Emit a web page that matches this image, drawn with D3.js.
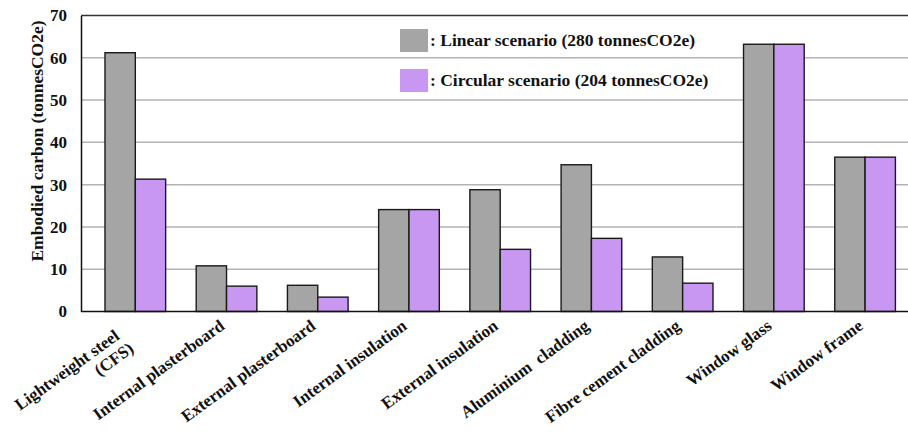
<!DOCTYPE html>
<html lang="en">
    <head>
        <meta charset="utf-8" />
        <title>Embodied carbon</title>
        <script src="https://d3js.org/d3.v7.min.js"></script>
        <style>
            body {
                margin: 0;
                background: #fff;
            }
            text {
                font-family: "Liberation Serif", "Times New Roman", serif;
                font-weight: bold;
                fill: #111;
            }
        </style>
    </head>
    <body>
        <div id="chart"></div>
        <script>
            // data
            const categories = [
                ["Lightweight steel", "(CFS)"],
                ["Internal plasterboard"],
                ["External plasterboard"],
                ["Internal insulation"],
                ["External insulation"],
                ["Aluminium  cladding"],
                ["Fibre cement cladding"],
                ["Window glass"],
                ["Window frame"],
            ];
            const linear = [61.2, 10.8, 6.2, 24.1, 28.8, 34.7, 12.9, 63.2, 36.5];
            const circular = [31.3, 6.0, 3.4, 24.1, 14.7, 17.3, 6.7, 63.2, 36.5];
            const seriesNames = ["linear", "circular"];
            const legendLabels = [
                ": Linear scenario (280 tonnesCO2e)",
                ": Circular scenario (204 tonnesCO2e)",
            ];
            const yTicks = [0, 10, 20, 30, 40, 50, 60, 70];

            width = 908;
            height = 433;
            const mLeft = 81,
                mTop = 15.5,
                mBottom = 311.5;
            const colors = { linear: "#a5a5a5", circular: "#c897f1" };

            var svg = d3
                .select("#chart")
                .append("svg")
                .attr("width", width)
                .attr("height", height);

            const keys = categories.map((c) => c.join(" "));
            const rows = keys.map((k, i) => ({
                key: k,
                lines: categories[i],
                linear: linear[i],
                circular: circular[i],
            }));

            var y = d3.scaleLinear().domain([0, 70]).range([mBottom, mTop]);
            var x = d3
                .scaleBand()
                .domain(keys)
                .range([89.7, 910.7])
                .paddingInner(0.335)
                .paddingOuter(0.1675);
            var xs = d3
                .scaleBand()
                .domain(seriesNames)
                .range([0, x.bandwidth()]);

            // gridlines
            svg.append("g")
                .selectAll("line")
                .data(yTicks.filter((t) => t > 0 && t < 70))
                .enter()
                .append("line")
                .attr("x1", mLeft)
                .attr("x2", width)
                .attr("y1", (d) => y(d))
                .attr("y2", (d) => y(d))
                .attr("stroke", "#b3b3b3")
                .attr("stroke-width", 1.5);

            // top border
            svg.append("line")
                .attr("x1", mLeft)
                .attr("x2", width)
                .attr("y1", y(70))
                .attr("y2", y(70))
                .attr("stroke", "#333")
                .attr("stroke-width", 1.5);

            // y axis
            var yAxis = svg
                .append("g")
                .attr("transform", "translate(" + mLeft + ",0)")
                .call(d3.axisLeft(y).tickValues(yTicks).tickSize(0).tickPadding(14));
            yAxis.select(".domain").attr("stroke", "#111").attr("stroke-width", 1.5);
            yAxis.selectAll("text").style("font-size", "17px").attr("fill", "#111");

            svg.append("text")
                .attr("transform", "translate(43,141) rotate(-90)")
                .attr("text-anchor", "middle")
                .style("font-size", "17.5px")
                .text("Embodied carbon (tonnesCO2e)");

            // bars
            var groups = svg
                .append("g")
                .selectAll("g")
                .data(rows)
                .enter()
                .append("g")
                .attr("transform", (d) => "translate(" + x(d.key) + ",0)");

            groups.selectAll("rect")
                .data((d) => seriesNames.map((s) => ({ s: s, v: d[s] })))
                .enter()
                .append("rect")
                .attr("x", (d) => xs(d.s))
                .attr("width", xs.bandwidth())
                .attr("y", (d) => y(d.v))
                .attr("height", (d) => y(0) - y(d.v))
                .attr("fill", (d) => colors[d.s])
                .attr("stroke", "#1a1a1a")
                .attr("stroke-width", 1.4);

            // x axis line
            svg.append("line")
                .attr("x1", mLeft)
                .attr("x2", width)
                .attr("y1", y(0))
                .attr("y2", y(0))
                .attr("stroke", "#111")
                .attr("stroke-width", 1.5);

            // x labels (two-line label sits a bit further back, like excel does)
            var lab = svg
                .append("g")
                .selectAll("text")
                .data(rows)
                .enter()
                .append("text")
                .attr("text-anchor", "end")
                .style("font-size", "17px")
                .style("white-space", "pre")
                .attr(
                    "transform",
                    (d) =>
                        "translate(" +
                        (x(d.key) + x.bandwidth() / 2 - 8) +
                        "," +
                        (y(0) + 7) +
                        ") rotate(-36)"
                );
            lab.selectAll("tspan")
                .data((d) => d.lines.map((t, i) => ({ t: t, i: i, n: d.lines.length })))
                .enter()
                .append("tspan")
                .attr("x", (d) => (d.n > 1 ? (d.i === 0 ? -17 : -13) : 0))
                .attr("dy", (d) => (d.i === 0 ? "0.7em" : "1.1em"))
                .text((d) => d.t);

            // legend
            var legend = svg
                .append("g")
                .selectAll("g")
                .data(seriesNames)
                .enter()
                .append("g")
                .attr("transform", (d, i) => "translate(400," + (29 + i * 40) + ")");
            legend
                .append("rect")
                .attr("width", 28)
                .attr("height", 23)
                .attr("fill", (d) => colors[d]);
            legend
                .append("text")
                .attr("x", 30)
                .attr("y", 17)
                .style("font-size", "17.5px")
                .text((d, i) => legendLabels[i]);
        </script>
    </body>
</html>
